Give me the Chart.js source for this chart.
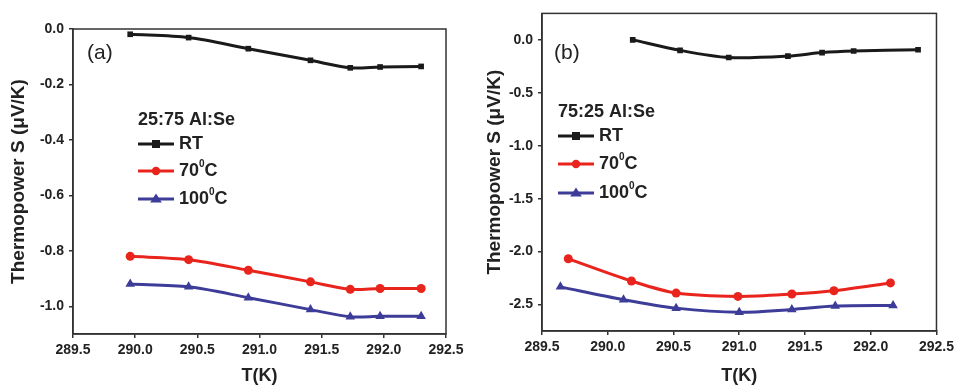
<!DOCTYPE html>
<html>
<head>
<meta charset="utf-8">
<script src="https://cdn.jsdelivr.net/npm/chart.js@4"></script>
<style>
  body { margin: 0; background: #fff; }
  .panel { position: absolute; top: 0; height: 387px; }
</style>
</head>
<body>
<div class="panel" style="left:0;width:479px"><canvas id="chart-a"></canvas></div>
<div class="panel" style="left:480px;width:478px"><canvas id="chart-b"></canvas></div>
<script>
// panel (a): 25:75 Al:Se
const tA = [289.96, 290.43, 290.91, 291.41, 291.73, 291.97, 292.3];
const sA_RT = [-0.019, -0.031, -0.071, -0.113, -0.14, -0.137, -0.135];
const sA_70 = [-0.82, -0.832, -0.87, -0.912, -0.939, -0.936, -0.936];
const sA_100 = [-0.92, -0.93, -0.969, -1.012, -1.038, -1.036, -1.036];

// panel (b): 75:25 Al:Se
const tB_RT = [290.19, 290.55, 290.92, 291.37, 291.63, 291.87, 292.36];
const sB_RT = [0.0, -0.099, -0.167, -0.154, -0.12, -0.105, -0.093];
const tB_70 = [289.7, 290.18, 290.52, 290.99, 291.4, 291.72, 292.15];
const sB_70 = [-2.068, -2.278, -2.392, -2.423, -2.401, -2.37, -2.296];
const tB_100 = [289.64, 290.12, 290.52, 291.0, 291.4, 291.73, 292.17];
const sB_100 = [-2.333, -2.454, -2.534, -2.574, -2.546, -2.515, -2.509];

const xTicks = [289.5, 290.0, 290.5, 291.0, 291.5, 292.0, 292.5];
const yTicksA = [0.0, -0.2, -0.4, -0.6, -0.8, -1.0];
const yTicksB = [0.0, -0.5, -1.0, -1.5, -2.0, -2.5];

const seriesNames = ["RT", "70", "100"];

const FONT = "'Liberation Sans', Arial, sans-serif";
const BLACK = "#1a1a1a";
const RED = "#e8241d";
const BLUE = "#3d3c98";

const toPoints = (xs, ys) => xs.map((x, i) => ({ x: x, y: ys[i] }));

function makeDataset(label, xs, ys, color, shape, radius) {
  return {
    label: label,
    data: toPoints(xs, ys),
    borderColor: color,
    backgroundColor: color,
    borderWidth: 3,
    pointStyle: shape,
    pointRadius: radius,
    pointBorderWidth: 0,
    tension: 0.3,
  };
}

// frame on top/right + panel letter + inline legend
const decorPlugin = {
  id: "decor",
  afterDraw(chart, args, opts) {
    const ctx = chart.ctx;
    const a = chart.chartArea;
    ctx.save();
    ctx.strokeStyle = "#333";
    ctx.lineWidth = 1.5;
    ctx.strokeRect(a.left, a.top, a.right - a.left, a.bottom - a.top);

    ctx.fillStyle = "#222";
    ctx.textBaseline = "middle";
    ctx.textAlign = "left";
    ctx.font = "21px " + FONT;
    ctx.fillText(opts.letter, opts.letterX, opts.letterY);

    ctx.font = "bold 18px " + FONT;
    ctx.fillText(opts.title, opts.legX, opts.titleY);

    chart.data.datasets.forEach((ds, i) => {
      const y = opts.rowY[i];
      ctx.strokeStyle = ds.borderColor;
      ctx.fillStyle = ds.borderColor;
      ctx.lineWidth = 3;
      ctx.beginPath();
      ctx.moveTo(opts.legX, y);
      ctx.lineTo(opts.legX + 36, y);
      ctx.stroke();
      const cx = opts.legX + 18;
      if (ds.pointStyle === "rect") {
        ctx.fillRect(cx - 4, y - 4, 8, 8);
      } else if (ds.pointStyle === "circle") {
        ctx.beginPath();
        ctx.arc(cx, y, 4.2, 0, Math.PI * 2);
        ctx.fill();
      } else {
        ctx.beginPath();
        ctx.moveTo(cx, y - 5.5);
        ctx.lineTo(cx + 5.8, y + 3.5);
        ctx.lineTo(cx - 5.8, y + 3.5);
        ctx.closePath();
        ctx.fill();
      }
      ctx.fillStyle = "#222";
      let tx = opts.legX + 41;
      ctx.font = "bold 18px " + FONT;
      ctx.fillText(ds.label, tx, y);
      if (ds.label !== "RT") {
        tx += ctx.measureText(ds.label).width;
        ctx.font = "bold 10px " + FONT;
        ctx.fillText("0", tx, y - 7);
        tx += ctx.measureText("0").width;
        ctx.font = "bold 18px " + FONT;
        ctx.fillText("C", tx, y);
      }
    });
    ctx.restore();
  },
};

function buildChart(id, datasets, yMin, yMax, yTicks, layout, decor) {
  const ctx = document.getElementById(id).getContext("2d");
  return new Chart(ctx, {
    type: "line",
    data: { datasets: datasets },
    plugins: [decorPlugin],
    options: {
      responsive: true,
      maintainAspectRatio: false,
      animation: false,
      layout: { padding: { left: 0, right: layout.right, top: layout.top, bottom: 0 } },
      plugins: {
        legend: { display: false },
        tooltip: { enabled: false },
        decor: decor,
      },
      scales: {
        x: {
          type: "linear",
          min: 289.5,
          max: 292.5,
          afterBuildTicks: (s) => { s.ticks = xTicks.map((v) => ({ value: v })); },
          afterFit: (s) => { s.height = layout.xHeight; },
          ticks: {
            color: "#222",
            font: { family: FONT, size: 14, weight: "bold" },
            padding: 4,
            maxRotation: 0,
            callback: (v) => v.toFixed(1),
          },
          grid: { drawOnChartArea: false, drawTicks: true, tickLength: 4, color: "#333", lineWidth: 1.5 },
          border: { color: "#333", width: 1.5 },
          title: {
            display: true,
            text: "T(K)",
            color: "#222",
            font: { family: FONT, size: 18, weight: "bold" },
            padding: { top: 0, bottom: 0 },
          },
        },
        y: {
          min: yMin,
          max: yMax,
          afterBuildTicks: (s) => { s.ticks = yTicks.map((v) => ({ value: v })); },
          afterFit: (s) => { s.width = layout.yWidth; },
          ticks: {
            color: "#222",
            font: { family: FONT, size: 14, weight: "bold" },
            padding: 5,
            callback: (v) => v.toFixed(1),
          },
          grid: { drawOnChartArea: false, drawTicks: true, tickLength: 4, color: "#333", lineWidth: 1.5 },
          border: { color: "#333", width: 1.5 },
          title: {
            display: true,
            text: "Thermopower S (\u03bcV/K)",
            color: "#222",
            font: { family: FONT, size: 19, weight: "bold" },
            padding: { top: layout.yTitlePad, bottom: 0 },
          },
        },
      },
    },
  });
}

buildChart(
  "chart-a",
  [
    makeDataset(seriesNames[0], tA, sA_RT, BLACK, "rect", 4),
    makeDataset(seriesNames[1], tA, sA_70, RED, "circle", 4.5),
    makeDataset(seriesNames[2], tA, sA_100, BLUE, "triangle", 5.5),
  ],
  -1.1, 0.0, yTicksA,
  { right: 33, top: 29, xHeight: 53, yWidth: 73, yTitlePad: 7 },
  { letter: "(a)", letterX: 87, letterY: 53, title: "25:75 Al:Se", legX: 138, titleY: 120, rowY: [144, 171, 199] }
);

buildChart(
  "chart-b",
  [
    makeDataset(seriesNames[0], tB_RT, sB_RT, BLACK, "rect", 4),
    makeDataset(seriesNames[1], tB_70, sB_70, RED, "circle", 4.5),
    makeDataset(seriesNames[2], tB_100, sB_100, BLUE, "triangle", 5.5),
  ],
  -2.75, 0.25, yTicksB,
  { right: 21, top: 7, xHeight: 56, yWidth: 62, yTitlePad: 3 },
  { letter: "(b)", letterX: 74, letterY: 53, title: "75:25 Al:Se", legX: 78, titleY: 112, rowY: [136, 164, 193] }
);
</script>
</body>
</html>
